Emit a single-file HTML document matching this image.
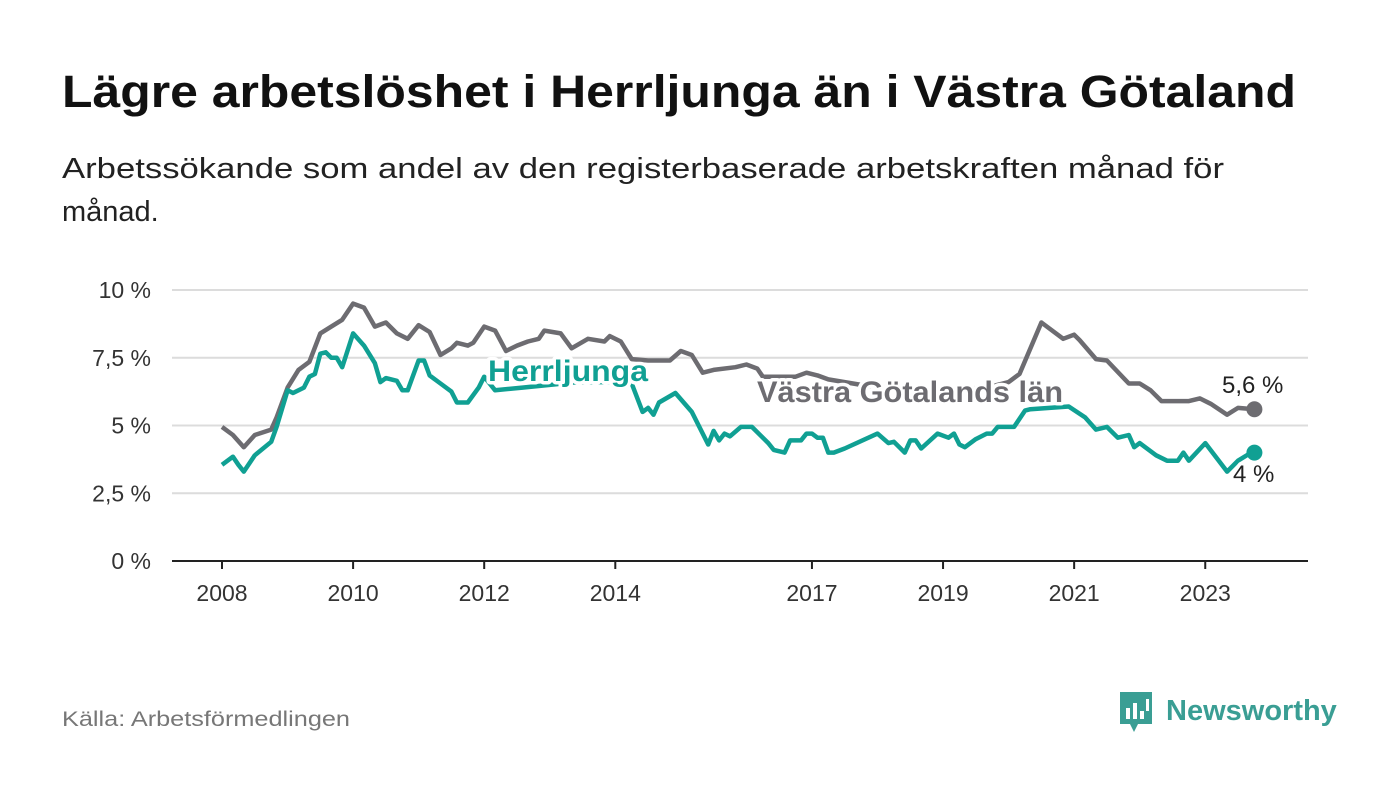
<!DOCTYPE html>
<html><head><meta charset="utf-8"><style>
html,body{margin:0;padding:0;background:#fff;}
svg{display:block;font-family:"Liberation Sans","DejaVu Sans",sans-serif;}
</style></head><body>
<svg id="chart" width="1400" height="794" viewBox="0 0 1400 794">
<text x="62" y="107" font-size="45" font-weight="bold" fill="#111" textLength="1234" lengthAdjust="spacingAndGlyphs">Lägre arbetslöshet i Herrljunga än i Västra Götaland</text>
<text x="62" y="178" font-size="29" fill="#222" textLength="1162" lengthAdjust="spacingAndGlyphs">Arbetssökande som andel av den registerbaserade arbetskraften månad för</text>
<text x="62" y="221" font-size="29" fill="#222">månad.</text>
<g id="grid"></g>
<g id="xaxis"></g>
<g id="series"></g>
<g id="labels"></g>
<text x="62" y="726" font-size="21" fill="#777" textLength="288" lengthAdjust="spacingAndGlyphs">Källa: Arbetsförmedlingen</text>
<g>
<path d="M1120 692 h32 v32 h-14 l-4 8 l-4 -8 h-10 z" fill="#3a9e94"/>
<rect x="1126" y="708" width="4" height="11" fill="#fff"/><rect x="1133" y="703" width="4" height="16" fill="#fff"/><rect x="1140" y="711" width="4" height="8" fill="#fff"/><rect x="1146" y="699" width="3" height="12" fill="#fff"/>
<text x="1166" y="720" font-size="29" font-weight="bold" fill="#3a9e94">Newsworthy</text>
</g>
</svg>
<script>
const yTicks=[0,2.5,5,7.5,10];
const yTickLabels=["0 %","2,5 %","5 %","7,5 %","10 %"];
const xYears=[2008,2010,2012,2014,2017,2019,2021,2023];
const vgMonths=[0,2,4,6,9,10,12,14,16,18,20,22,24,26,28,30,32,34,36,38,40,42,43,45,46,48,50,52,54,56,58,59,62,64,67,70,71,73,75,78,82,84,86,88,90,94,96,98,99,105,107,109,111,114,120,130,140,144,146,150,154,156,157,160,162,166,168,170,172,177,179,181,184,186,189];
const vgValues=[4.95,4.65,4.2,4.65,4.85,5.3,6.4,7.05,7.35,8.4,8.65,8.9,9.5,9.35,8.65,8.8,8.4,8.2,8.7,8.45,7.6,7.85,8.05,7.95,8.05,8.65,8.5,7.75,7.95,8.1,8.2,8.5,8.4,7.85,8.2,8.1,8.3,8.1,7.45,7.4,7.4,7.75,7.6,6.95,7.05,7.15,7.25,7.1,6.8,6.8,6.95,6.85,6.7,6.6,6.4,6.3,6.4,6.6,6.9,8.8,8.2,8.35,8.15,7.45,7.4,6.55,6.55,6.3,5.9,5.9,6.0,5.8,5.4,5.65,5.6];
const hjMonths=[0,2,3,4,6,9,10,12,13,15,16,17,18,19,20,21,22,24,26,28,29,30,32,33,34,36,37,38,40,42,43,45,47,48,50,55,60,65,70,75,77,78,79,80,83,86,89,90,91,92,93,95,97,100,101,103,104,106,107,108,109,110,111,112,114,120,122,123,125,126,127,128,131,133,134,135,136,138,140,141,142,145,147,148,155,158,160,162,164,166,167,168,171,173,175,176,177,180,184,186,188,189];
const hjValues=[3.55,3.85,3.55,3.3,3.9,4.4,4.95,6.3,6.2,6.4,6.8,6.9,7.65,7.7,7.5,7.5,7.15,8.4,7.95,7.3,6.6,6.75,6.65,6.3,6.3,7.4,7.4,6.85,6.55,6.25,5.85,5.85,6.4,6.8,6.3,6.4,6.5,6.6,6.6,6.55,5.5,5.65,5.4,5.85,6.2,5.5,4.3,4.8,4.45,4.7,4.6,4.95,4.95,4.35,4.1,4.0,4.45,4.45,4.7,4.7,4.55,4.55,4.0,4.0,4.15,4.7,4.35,4.4,4.0,4.45,4.45,4.15,4.7,4.55,4.7,4.3,4.2,4.5,4.7,4.7,4.95,4.95,5.55,5.6,5.7,5.3,4.85,4.95,4.55,4.65,4.2,4.35,3.9,3.7,3.7,4.0,3.7,4.35,3.3,3.7,3.95,4.0];
const endLabels=["5,6 %","4 %"];
const NS="http://www.w3.org/2000/svg";
const x0=172,x1=1308,y0=561,y10=290;
function yS(v){return y0-(y0-y10)*v/10;}
function xM(m){return 222+m*(65.55/12);}
function xY(yr){return xM((yr-2008)*12);}
function mk(tag,attrs,parent){const e=document.createElementNS(NS,tag);for(const k in attrs)e.setAttribute(k,attrs[k]);parent.appendChild(e);return e;}
const grid=document.getElementById('grid');
yTicks.forEach((t,i)=>{
  const l=mk('line',{x1:x0,x2:x1,y1:yS(t),y2:yS(t),stroke:t===0?'#222':'#dcdcdc','stroke-width':2},grid);
  
  
  const tx=mk('text',{x:151,y:yS(t)+8,'text-anchor':'end','font-size':23,fill:'#333'},grid);
  tx.textContent=yTickLabels[i];
  
  
});
const xa=document.getElementById('xaxis');
xYears.forEach(yr=>{
  const t=mk('line',{x1:xY(yr),x2:xY(yr),y1:y0,y2:y0+8,stroke:'#222','stroke-width':2},xa);
  
  
  const tx=mk('text',{x:xY(yr),y:601,'text-anchor':'middle','font-size':23,fill:'#333'},xa);
  tx.textContent=yr;
  
  
});
const sg=document.getElementById('series');
function line(ms,vs,color,name){
  const d=ms.map((m,i)=>(i?'L':'M')+xM(m).toFixed(1)+' '+yS(vs[i]).toFixed(1)).join(' ');
  const p=mk('path',{d:d,fill:'none',stroke:color,'stroke-width':4.5,'stroke-linejoin':'round'},sg);
  
  
  const c=mk('circle',{cx:xM(ms[ms.length-1]),cy:yS(vs[vs.length-1]),r:8,fill:color},sg);
  
  
}
line(vgMonths,vgValues,'#6d6c71','vastra-gotaland-line');
line(hjMonths,hjValues,'#10a093','herrljunga-line');
const lg=document.getElementById('labels');
function lab(txt,x,y,col,size,bold,name,w){
  const a={x:x,y:y,fill:col,'font-size':size,'font-weight':bold?'bold':'normal',stroke:'#fff','stroke-width':7,'paint-order':'stroke','stroke-linejoin':'round'};
  if(w){a.textLength=w;a.lengthAdjust='spacingAndGlyphs';}
  const t=mk('text',a,lg);
  t.textContent=txt;
  
  
}
lab('Herrljunga',488,381,'#10a093',30,true,'herrljunga-label',160);
lab('Västra Götalands län',757,402,'#6d6c71',30,true,'vastra-gotaland-label',306);
lab(endLabels[0],1222,393,'#222',24,false,'vastra-gotaland-end-value');
lab(endLabels[1],1233,482,'#222',24,false,'herrljunga-end-value');
</script>
</body></html>
